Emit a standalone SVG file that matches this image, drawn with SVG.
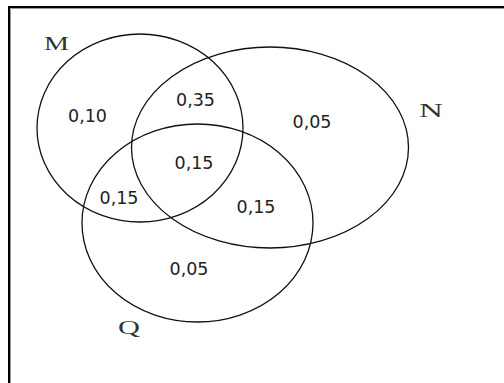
<svg xmlns="http://www.w3.org/2000/svg" width="504" height="383" viewBox="0 0 504 383">
<style>
.set{fill:none;stroke:#111;stroke-width:1.3}
.v{font-family:"DejaVu Sans",sans-serif;font-size:17.5px;fill:#222;text-anchor:middle}
.lbl{font-family:"Liberation Serif","Times New Roman",serif;font-size:19px;fill:#333}
</style>
<rect x="0" y="0" width="504" height="383" fill="#fff"/>
<g id="frame">
<path d="M9 383 V7 H504" fill="none" stroke="#000" stroke-width="2"/>
<path d="M10.5 383 V8.5 H504" fill="none" stroke="#999" stroke-width="1"/>
</g>
<g id="M">
<ellipse class="set" cx="140" cy="128" rx="103" ry="94"/>
<text class="lbl" x="44" y="50" textLength="25" lengthAdjust="spacingAndGlyphs">M</text>
</g>
<g id="N">
<ellipse class="set" cx="270" cy="147.5" rx="138.5" ry="100.5"/>
<text class="lbl" x="419" y="117" textLength="24" lengthAdjust="spacingAndGlyphs">N</text>
</g>
<g id="Q">
<ellipse class="set" cx="197.5" cy="223" rx="115.5" ry="99"/>
<text class="lbl" x="118" y="334" textLength="22" lengthAdjust="spacingAndGlyphs">Q</text>
</g>
<g id="values">
<text class="v" x="87.5" y="122">0,10</text>
<text class="v" x="195.5" y="106">0,35</text>
<text class="v" x="312" y="128">0,05</text>
<text class="v" x="194" y="169">0,15</text>
<text class="v" x="119" y="204">0,15</text>
<text class="v" x="256" y="213">0,15</text>
<text class="v" x="189" y="275">0,05</text>
</g>
</svg>
